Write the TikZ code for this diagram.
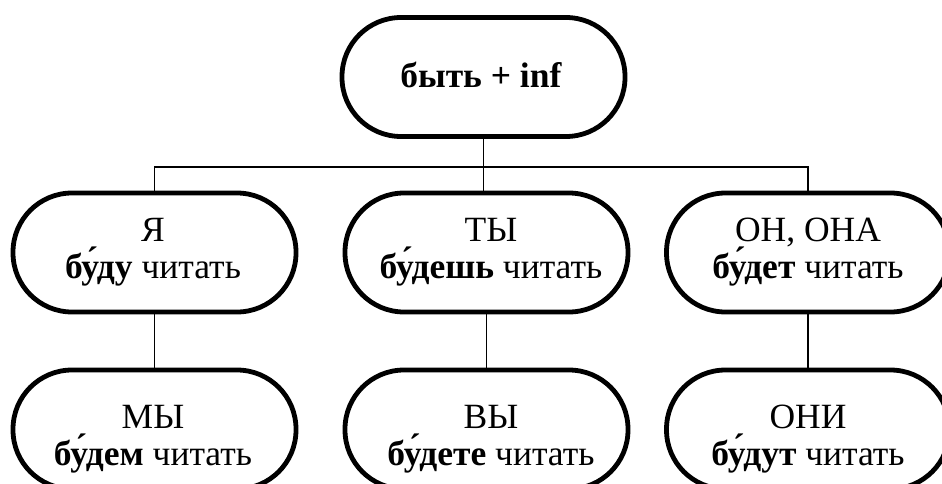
\documentclass[tikz,border=0pt]{standalone}
\usepackage{fontspec}
\setmainfont{Liberation Serif}
\begin{document}
\begin{tikzpicture}[x=1pt,y=-1pt,
  pill/.style={draw=black,line width=4.8pt,rectangle,rounded corners=59pt,
    minimum width=283pt,minimum height=119pt,inner sep=0pt},
  txt/.style={align=center,inner sep=0pt,font=\fontsize{35.5}{37.5}\selectfont},
  conn/.style={draw=black,line width=1.8pt}]
\useasboundingbox (0,0) rectangle (942,484);
% boxes
\node[pill] (top) at (483.5,77) {};
\node[txt] (toptxt) at (481,75) {\textbf{быть + inf}};
\node[pill] (m1) at (154.5,252.5) {};
\node[pill] (m2) at (486.5,252.5) {};
\node[pill] (m3) at (808,252.5) {};
\node[pill] (b1) at (154.5,429.5) {};
\node[pill] (b2) at (486.5,429.5) {};
\node[pill] (b3) at (808,429.5) {};
% texts
\node[txt] (t1) at (153,252) {Я\\\textbf{бу́ду} читать};
\node[txt] (t2) at (491,252) {ТЫ\\\textbf{бу́дешь} читать};
\node[txt] (t3) at (808,252) {ОН, ОНА\\\textbf{бу́дет} читать};
\node[txt] (t4) at (153,439) {МЫ\\\textbf{бу́дем} читать};
\node[txt] (t5) at (491,439) {ВЫ\\\textbf{бу́дете} читать};
\node[txt] (t6) at (808,439) {ОНИ\\\textbf{бу́дут} читать};
% connectors
\coordinate (hj) at (483.5,167);
\draw[conn] (top.south) -- (hj);
\draw[conn] (m1.north) |- (hj) -| (m3.north);
\draw[conn] (hj) -- (hj |- m2.north);
\draw[conn] (m1.south) -- (b1.north);
\draw[conn] (m2.south) -- (b2.north);
\draw[conn] (m3.south) -- (b3.north);
\end{tikzpicture}
\end{document}
